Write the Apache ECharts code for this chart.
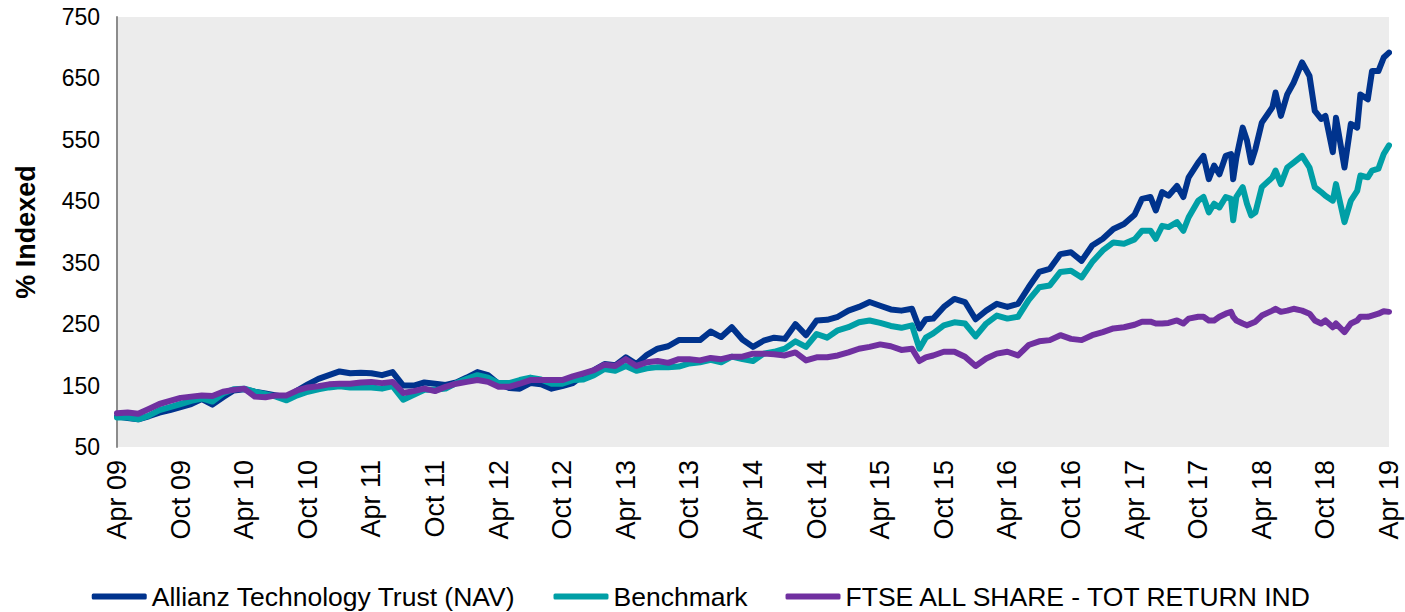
<!DOCTYPE html>
<html><head><meta charset="utf-8">
<script src="https://cdn.jsdelivr.net/npm/echarts@6/dist/echarts.min.js"></script>
<style>html,body{margin:0;padding:0;background:#fff}#c{width:1405px;height:612px}</style>
</head><body><div id="c"></div>
<script>
// x position in months since Apr 2009
const months = [0,1,2,3,4,5,6,7,8,9,10,11,12,13,14,15,16,17,18,19,20,21,22,23,24,25,26,27,28,29,30,31,32,33,34,35,36,37,38,39,40,41,42,43,44,45,46,47,48,49,50,51,52,53,54,55,56,57,58,59,60,61,62,63,64,65,66,67,68,69,70,71,72,73,74,75,75.7,76.3,77,78,79,80,81,82,83,84,85,86,87,88,89,90,91,92,93,94,95,96,96.7,97.5,98,98.6,99.2,100,100.6,101.1,102,102.5,103,103.5,104,104.6,105.1,105.3,105.6,106.2,106.6,107,107.4,108,109,109.3,109.8,110.4,111,111.8,112.5,113,113.6,114,114.7,115,115.8,116.4,117,117.3,118,118.4,119,119.5,120];
const nav = [100,97,95,100,106,110,115,120,128,119,131,142,144,140,137,134,131,142,152,161,167,173,170,171,170,167,172,150,150,155,153,151,155,163,172,167,153,146,145,154,152,145,149,154,167,175,185,183,196,185,200,210,214,224,224,224,238,229,245,225,213,223,228,226,250,232,256,257,262,272,278,286,280,274,272,275,243,258,259,278,291,286,258,272,283,278,283,310,335,340,364,367,353,378,389,405,413,428,454,457,435,465,459,475,457,489,513,524,486,508,494,524,527,486,521,570,549,513,535,578,603,627,589,624,643,676,654,597,584,589,530,586,505,576,570,624,616,662,662,684,692];
const benchmark = [98,98,95,101,110,115,120,125,129,124,137,144,145,140,136,132,126,134,140,144,147,149,147,147,147,145,149,127,135,143,143,145,154,161,167,163,154,154,159,163,160,153,153,159,160,167,177,174,182,174,178,180,180,181,186,188,192,188,197,193,190,202,205,210,222,213,234,228,240,245,253,256,252,247,244,248,210,228,235,248,253,251,230,251,264,259,262,289,310,313,335,337,326,351,370,383,381,388,402,402,389,410,408,416,402,424,451,457,432,446,440,457,454,419,457,473,446,427,432,473,489,500,478,505,513,524,505,473,465,459,451,478,416,451,467,492,489,500,503,527,541];
const ftse = [105,106,104,112,120,125,130,132,134,133,140,143,145,132,131,134,134,142,147,149,152,153,153,155,156,154,156,138,141,145,141,148,153,156,159,156,148,148,153,159,159,159,159,165,170,175,184,182,193,182,188,190,187,193,193,191,195,193,197,197,202,202,201,199,204,191,196,196,199,204,210,213,217,214,208,210,190,196,199,205,205,197,182,194,202,205,199,216,222,224,232,226,224,232,237,243,245,249,254,254,251,251,252,256,251,259,262,262,256,256,262,267,270,262,256,251,248,251,254,264,272,275,270,272,275,272,267,256,251,256,245,251,237,251,256,262,262,264,267,271,270];
const tickLabels = ['Apr 09','Oct 09','Apr 10','Oct 10','Apr 11','Oct 11','Apr 12','Oct 12','Apr 13','Oct 13','Apr 14','Oct 14','Apr 15','Oct 15','Apr 16','Oct 16','Apr 17','Oct 17','Apr 18','Oct 18','Apr 19'];
const seriesNames = ['Allianz Technology Trust (NAV)','Benchmark','FTSE ALL SHARE - TOT RETURN IND'];
const colors = ['#00338D','#009FA6','#7030A0'];
const values = [nav, benchmark, ftse];

const font = '"Liberation Sans", Arial, sans-serif';
const chart = echarts.init(document.getElementById('c'), null, {renderer:'svg'});
chart.setOption({
  animation:false,
  grid:{left:117,right:16,top:17,bottom:165,show:true,backgroundColor:'#ECECEC',borderWidth:0},
  xAxis:{type:'value',min:0,max:120,interval:6,
    axisLine:{show:false},axisTick:{show:false},splitLine:{show:false},
    axisLabel:{rotate:90,margin:13,fontSize:27,color:'#000',fontFamily:font,
      formatter:function(v){return tickLabels[Math.round(v/6)]||'';}}},
  yAxis:{type:'value',min:50,max:750,interval:100,
    name:'% Indexed',nameLocation:'middle',nameRotate:90,nameGap:78,
    nameTextStyle:{fontSize:27,fontWeight:'bold',color:'#000',fontFamily:font},
    axisLine:{show:true,lineStyle:{color:'#8C8C8C',width:2}},axisTick:{show:false},splitLine:{show:false},
    axisLabel:{fontSize:23,color:'#000',margin:17,fontFamily:font}},
  legend:{top:578,left:'center',icon:'roundRect',itemWidth:55,itemHeight:6,itemGap:38,
    textStyle:{fontSize:26.5,color:'#000',fontFamily:font},
    data:seriesNames},
  series:values.map(function(arr,i){
    return {type:'line',name:seriesNames[i],showSymbol:false,symbol:'none',
      data:months.map(function(m,j){return [m,arr[j]];}),
      lineStyle:{color:colors[i],width:6,cap:'round',join:'round'},
      itemStyle:{color:colors[i]},z:2+i};
  })
});
</script></body></html>
